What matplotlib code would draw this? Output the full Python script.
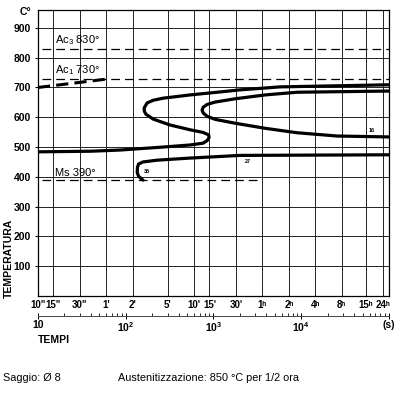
import matplotlib
matplotlib.use('Agg')
import matplotlib.pyplot as plt
from matplotlib.ticker import LogLocator, NullLocator

plt.rcParams['font.family'] = ['Liberation Sans', 'DejaVu Sans']
plt.rcParams['mathtext.default'] = 'regular'

# time grid (seconds) and their labels
grid_times = [10, 15, 30, 60, 120, 300, 600, 900, 1800, 3600, 7200, 14400, 28800, 54000, 86400]
grid_labels = ['10"', '15"', '30"', "1'", "2'", "5'", "10'", "15'", "30'",
               '1ʰ', '2ʰ', '4ʰ', '8ʰ', '15ʰ', '24ʰ']
temp_ticks = [100, 200, 300, 400, 500, 600, 700, 800, 900]
sec_ticks = [10, 100, 1000, 10000, 100000]
sec_labels = ['10', '10$^2$', '10$^3$', '10$^4$', '(s)']

# critical temperatures
ac3 = 830
ac1 = 730
ms = 390

# Ac1 rising branch (thick dashed)
ac1_t = [10, 60]
ac1_T = [700, 728]

# outer curve (start of transformation)
curve_a_t = [10, 40, 86, 266, 541, 761, 850, 891, 880, 761, 541, 320, 205, 170, 163, 162,
             175, 205, 266, 541, 1189, 2010, 5750, 100000]
curve_a_T = [484, 486, 490, 500, 507, 513, 522, 532, 541, 549, 558, 574, 594, 610, 620, 631,
             648, 657, 664, 675, 685, 692, 702, 709]

# inner curve "16"
curve_b_t = [100000, 8980, 3870, 1762, 1043, 845, 765, 741, 765, 850, 1043, 1762, 3870,
             8980, 25700, 100000]
curve_b_T = [688, 684, 675, 662, 651, 643, 634, 624, 614, 603, 593, 580, 563, 548, 537, 534]

# lower curve "35" / "27"
curve_c_t = [157, 140, 135, 136, 140, 157, 228, 541, 2010, 100000]
curve_c_T = [389, 402, 415, 432, 443, 450, 456, 463, 472, 474]

fig = plt.figure(figsize=(4, 3.96), dpi=100)
ax = fig.add_axes([0.095, 0.2525, 0.8775, 0.7222])

ax.set_xscale('log')
ax.set_xlim(10, 100000)
ax.set_ylim(0, 960)

ax.set_xticks(grid_times, labels=grid_labels)
ax.xaxis.set_minor_locator(NullLocator())
ax.set_yticks(temp_ticks)
ax.tick_params(axis='x', length=0, pad=3, labelsize=7)
ax.tick_params(axis='y', length=2, pad=3, labelsize=7.5)
for lab in ax.get_xticklabels() + ax.get_yticklabels():
    lab.set_fontweight('bold')
ax.grid(True, color='#222222', lw=0.7)
for sp in ax.spines.values():
    sp.set_linewidth(0.9)

# reference lines
dash = (0, (7, 4))
ax.plot([11, 100000], [ac3, ac3], color='k', lw=0.9, ls=dash)
ax.plot([11, 100000], [ac1, ac1], color='k', lw=0.9, ls=dash)
ax.plot([11, 3580], [ms, ms], color='k', lw=0.9, ls=dash)
ax.plot(ac1_t, ac1_T, color='k', lw=2.2, ls=(0, (4, 2)))

ax.text(15.6, 836, 'Ac$_3$ 830°', fontsize=8, va='bottom')
ax.text(15.6, 736, 'Ac$_1$ 730°', fontsize=8, va='bottom')
ax.text(15.6, 396, 'Ms 390°', fontsize=8, va='bottom')

for t, T in [(curve_a_t, curve_a_T), (curve_b_t, curve_b_T), (curve_c_t, curve_c_T)]:
    ax.plot(t, T, color='k', lw=2.3, solid_joinstyle='round', solid_capstyle='round')

ax.text(64000, 557, '16', fontsize=4, fontweight='bold', ha='center', va='center')
ax.text(2460, 450, '27', fontsize=4, fontweight='bold', ha='center', va='center')
ax.text(175, 417, '35', fontsize=4, fontweight='bold', ha='center', va='center')

# second time scale in seconds
sec = ax.secondary_xaxis(-0.07)
sec.set_xticks(sec_ticks, labels=sec_labels)
sec.xaxis.set_minor_locator(LogLocator(subs=range(2, 10)))
sec.tick_params(which='major', direction='inout', length=4, width=0.7, labelsize=7.5, pad=1)
sec.tick_params(which='minor', direction='in', length=2, width=0.6)
sec.spines['bottom'].set_linewidth(0.7)
sec.spines['bottom'].set_color('#444444')
for lab in sec.get_xticklabels():
    lab.set_fontweight('bold')

fig.text(25 / 400, 1 - 12 / 396, 'C°', fontsize=7.5, fontweight='bold', ha='center', va='center')
fig.text(9 / 400, 1 - 258 / 396, 'TEMPERATURA', fontsize=7.5, fontweight='bold',
         rotation=90, ha='center', va='center')
fig.text(38 / 400, 1 - 340 / 396, 'TEMPI', fontsize=7.5, fontweight='bold', ha='left', va='center')

fig.text(3 / 400, 1 - 378 / 396, 'Saggio: Ø 8', fontsize=7.8, va='center')
fig.text(118 / 400, 1 - 378 / 396, 'Austenitizzazione: 850 °C per 1/2 ora', fontsize=7.8, va='center')

fig.savefig('out.png', dpi=100)
